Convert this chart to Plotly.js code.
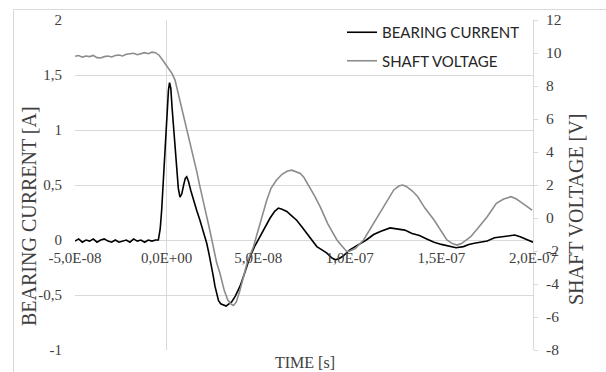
<!DOCTYPE html>
<html><head><meta charset="utf-8">
<script src="https://cdn.plot.ly/plotly-3.0.1.min.js"></script>
<style>html,body{margin:0;padding:0;background:#fff}#chart{width:606px;height:372px}</style>
</head><body><div id="chart"></div>
<script>
// ---- data (time in seconds) ----
const currentTime = [
  -50e-9,-48e-9,-46e-9,-44e-9,-42e-9,-40e-9,-38e-9,-36e-9,-34e-9,-32e-9,-30e-9,-28e-9,-26e-9,-24e-9,-22e-9,-20e-9,-18e-9,-16e-9,-14e-9,-12e-9,-10e-9,-8e-9,-6e-9,
  -4.5e-9,-3.5e-9,-2.7e-9,-1.8e-9,-0.9e-9,0,1.0e-9,1.6e-9,2.3e-9,3.0e-9,3.7e-9,4.6e-9,5.5e-9,6.4e-9,7.3e-9,8.3e-9,9.3e-9,10.2e-9,11.0e-9,12.0e-9,13.2e-9,14.6e-9,16.4e-9,18.2e-9,20e-9,21.9e-9,23.2e-9,24.6e-9,25.5e-9,26.4e-9,27.3e-9,28.3e-9,29.5e-9,31e-9,32.5e-9,34e-9,35.6e-9,37.5e-9,40.1e-9,42.8e-9,45.6e-9,48.3e-9,51e-9,53.7e-9,56.5e-9,59e-9,61e-9,63e-9,65.6e-9,68.3e-9,71e-9,73.8e-9,76.6e-9,79.3e-9,82e-9,84.8e-9,87.5e-9,90e-9,92e-9,94e-9,96e-9,100e-9,104e-9,109e-9,113e-9,117e-9,122e-9,126e-9,130e-9,134e-9,138e-9,142e-9,146e-9,150e-9,155e-9,158e-9,162e-9,165e-9,168e-9,172e-9,175e-9,179e-9,183e-9,187e-9,190e-9,193e-9,196e-9,200e-9
];
const bearingCurrent = [
  -0.01,0.01,-0.02,0.00,-0.01,0.01,-0.02,0.00,0.01,-0.01,-0.02,0.00,-0.02,-0.01,0.00,-0.02,0.01,-0.01,0.00,-0.02,0.00,-0.01,0.00,
  0.00,0.10,0.27,0.55,0.88,1.15,1.36,1.43,1.38,1.20,1.03,0.82,0.64,0.47,0.39,0.42,0.50,0.56,0.575,0.53,0.45,0.36,0.27,0.18,0.08,-0.03,-0.13,-0.24,-0.33,-0.42,-0.49,-0.55,-0.58,-0.59,-0.60,-0.58,-0.56,-0.51,-0.42,-0.29,-0.15,-0.05,0.03,0.11,0.20,0.26,0.29,0.28,0.26,0.22,0.18,0.12,0.06,0.00,-0.06,-0.09,-0.12,-0.16,-0.18,-0.17,-0.15,-0.09,-0.05,0.00,0.05,0.08,0.11,0.10,0.09,0.06,0.04,0.01,-0.02,-0.04,-0.06,-0.07,-0.06,-0.04,-0.03,-0.02,-0.01,0.02,0.03,0.04,0.045,0.03,0.01,-0.02
];
const voltageTime = [
  -50e-9,-48e-9,-46e-9,-44e-9,-42e-9,-40e-9,-38e-9,-36e-9,-34e-9,-32e-9,-30e-9,-28e-9,-26e-9,-24e-9,-22e-9,-20e-9,-18e-9,-16e-9,-14e-9,-12e-9,-10e-9,-8e-9,-6e-9,-4e-9,
  -2e-9,-0.9e-9,1e-9,1.9e-9,3e-9,4.6e-9,6e-9,7.5e-9,9e-9,11e-9,13e-9,14.5e-9,16.5e-9,18.2e-9,20.2e-9,21.9e-9,23.7e-9,25.5e-9,27.3e-9,29e-9,30e-9,31.5e-9,33.4e-9,35e-9,36.5e-9,38e-9,40e-9,42e-9,44e-9,47.4e-9,49e-9,51e-9,53e-9,54.7e-9,57e-9,60e-9,63e-9,66e-9,68.4e-9,71e-9,73e-9,75e-9,78e-9,81e-9,83.8e-9,86e-9,88e-9,90e-9,93e-9,95e-9,98.4e-9,100e-9,103e-9,107.5e-9,112e-9,116.6e-9,120e-9,124e-9,127e-9,129e-9,131e-9,134e-9,137e-9,141e-9,146e-9,150e-9,153e-9,156e-9,158.5e-9,161e-9,164e-9,166e-9,170e-9,175e-9,180e-9,184e-9,188e-9,191e-9,193e-9,196e-9,199.5e-9
];
const shaftVoltage = [
  9.80,9.85,9.75,9.82,9.78,9.85,9.72,9.70,9.78,9.82,9.76,9.85,9.88,9.82,9.92,9.95,9.98,9.90,9.95,10.02,9.96,10.05,10.02,9.85,
  9.55,9.37,9.10,8.97,8.75,8.36,7.70,7.00,6.30,5.53,4.50,3.72,2.80,1.90,1.00,0.08,-0.80,-1.74,-2.70,-3.30,-3.76,-4.40,-4.97,-5.20,-5.30,-5.10,-4.40,-3.50,-2.70,-1.74,-1.10,-0.35,0.40,1.09,1.80,2.30,2.65,2.85,2.90,2.80,2.70,2.45,1.90,1.30,0.69,0.10,-0.35,-0.75,-1.33,-1.60,-2.04,-2.00,-1.85,-1.33,-0.50,0.28,0.90,1.70,1.95,2.00,1.90,1.65,1.30,0.60,-0.12,-0.80,-1.33,-1.55,-1.64,-1.55,-1.30,-1.13,-0.60,0.08,0.89,1.15,1.29,1.15,0.99,0.75,0.48
];
const seriesNames = ['BEARING CURRENT', 'SHAFT VOLTAGE'];
const xTickVals = [-5e-8, 0, 5e-8, 1e-7, 1.5e-7, 2e-7];
const xTickText = ['-5,0E-08', '0,0E+00', '5,0E-08', '1,0E-07', '1,5E-07', '2,0E-07'];
const yLeftTickVals = [-1, -0.5, 0, 0.5, 1, 1.5, 2];
const yLeftTickText = ['-1', '-0,5', '0', '0,5', '1', '1,5', '2'];
const yRightTickVals = [-8, -6, -4, -2, 0, 2, 4, 6, 8, 10, 12];
const yRightTickText = ['-8', '-6', '-4', '-2', '0', '2', '4', '6', '8', '10', '12'];
const xTitle = 'TIME [s]';
const yLeftTitle = 'BEARING CURRENT [A]';
const yRightTitle = 'SHAFT VOLTAGE [V]';

// ---- layout geometry ----
const W = 606, H = 372, L = 75, R = 73, T = 20, B = 22;
const pw = W - L - R, ph = H - T - B;
const px = x => (x - L) / pw;
const py = y => (H - B - y) / ph;
const serif = 'Liberation Serif';
const txt = '#404040';
const grid = '#d9d9d9';

const traces = [
  {x: currentTime, y: bearingCurrent, name: seriesNames[0], type: 'scatter', mode: 'lines',
   line: {color: '#000000', width: 1.6}, xaxis: 'x', yaxis: 'y', legendgroup: 'a'},
  {x: voltageTime, y: shaftVoltage, name: seriesNames[1], type: 'scatter', mode: 'lines',
   line: {color: '#8c8c8c', width: 1.6}, xaxis: 'x', yaxis: 'y2', legendgroup: 'b'}
];

const layout = {
  width: W, height: H,
  margin: {l: L, r: R, t: T, b: B, pad: 0},
  paper_bgcolor: '#ffffff', plot_bgcolor: '#ffffff',
  font: {family: serif, color: txt},
  showlegend: true,
  legend: {x: px(342), y: py(16), xanchor: 'left', yanchor: 'top', bgcolor: 'rgba(0,0,0,0)',
           font: {family: 'Lato', size: 15, color: '#262626'},
           tracegroupgap: 6, traceorder: 'grouped'},
  xaxis: {range: [-5e-8, 2e-7], tickmode: 'array', tickvals: xTickVals, ticktext: xTickText,
          anchor: 'free', position: (0 - (-1)) / (2 - (-1)),
          showgrid: false, zeroline: true, zerolinecolor: grid, zerolinewidth: 1,
          showline: false, ticks: '', ticklabelstandoff: 7,
          tickfont: {family: serif, size: 15, color: txt}},
  yaxis: {range: [-1, 2], tickmode: 'array', tickvals: yLeftTickVals, ticktext: yLeftTickText,
          showgrid: true, gridcolor: grid, gridwidth: 1,
          zeroline: true, zerolinecolor: grid, zerolinewidth: 1,
          showline: false, ticks: '', ticklabelstandoff: 12,
          tickfont: {family: serif, size: 15, color: txt}},
  yaxis2: {range: [-8, 12], overlaying: 'y', side: 'right', anchor: 'x',
           tickmode: 'array', tickvals: yRightTickVals, ticktext: yRightTickText,
           showgrid: false, zeroline: false, showline: true, linecolor: grid, linewidth: 1,
           ticks: 'outside', ticklen: 4, tickcolor: grid, ticklabelstandoff: 5,
           tickfont: {family: serif, size: 15.5, color: txt}},
  shapes: [
    {type: 'rect', xref: 'paper', yref: 'paper', x0: px(13.5), x1: px(640), y0: py(400), y1: py(9.5),
     line: {color: grid, width: 1}, fillcolor: 'rgba(0,0,0,0)', layer: 'below'}
  ],
  annotations: [
    {text: xTitle, xref: 'paper', yref: 'paper', x: px(305), y: py(362), xanchor: 'center', yanchor: 'middle',
     showarrow: false, font: {family: serif, size: 16, color: txt}},
    {text: yLeftTitle, xref: 'paper', yref: 'paper', x: px(29), y: py(216), xanchor: 'center', yanchor: 'middle',
     textangle: -90, showarrow: false, font: {family: serif, size: 20, color: txt}},
    {text: yRightTitle, xref: 'paper', yref: 'paper', x: px(576), y: py(210), xanchor: 'center', yanchor: 'middle',
     textangle: -90, showarrow: false, font: {family: serif, size: 20, color: txt}}
  ]
};

Plotly.newPlot('chart', traces, layout, {staticPlot: true, displayModeBar: false});
</script>
</body></html>
